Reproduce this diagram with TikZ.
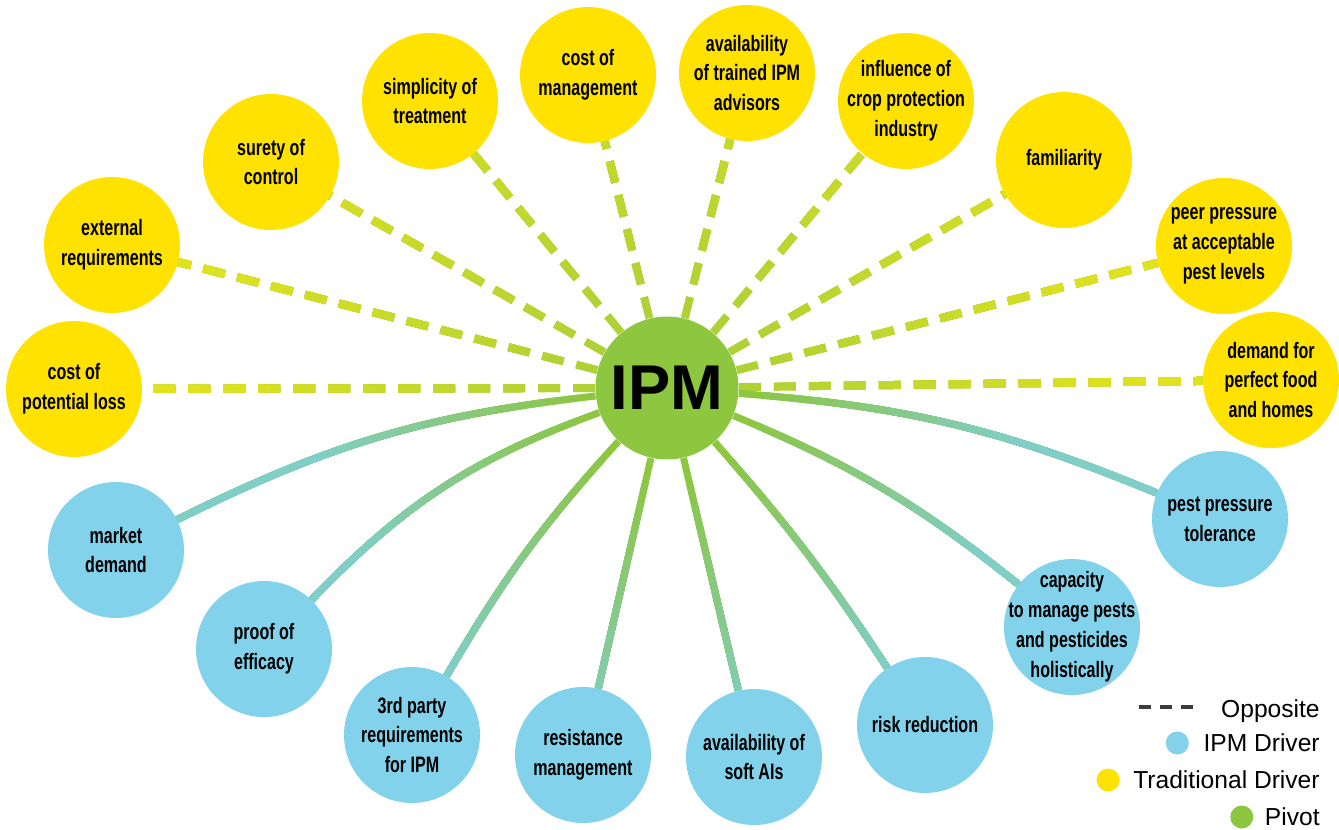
\documentclass[tikz,border=0pt]{standalone}
\usepackage{fontspec}
\setmainfont{Liberation Sans}
\newfontfamily\bubblefont[FakeStretch=0.72]{Liberation Sans}
\usetikzlibrary{positioning,backgrounds}
\definecolor{tradyellow}{RGB}{255,226,0}
\definecolor{driverblue}{RGB}{129,210,234}
\definecolor{pivotgreen}{RGB}{141,198,63}
\definecolor{dashfar}{RGB}{224,227,28}
\definecolor{dashnear}{RGB}{176,209,54}
\definecolor{linkfar}{RGB}{127,206,200}
\definecolor{linknear}{RGB}{141,198,63}
\definecolor{legendgray}{RGB}{60,60,60}

\begin{document}
\begin{tikzpicture}[x=0.02cm, y=-0.02cm,
  trad/.style={circle, fill=tradyellow, minimum size=2.72cm, inner sep=-0.6cm,
    align=center, font=\bubblefont\bfseries\fontsize{12.7}{17}\selectfont},
  driver/.style={trad, fill=driverblue},
  pivot/.style={circle, fill=pivotgreen, minimum size=2.86cm, inner sep=0pt,
    font=\bfseries\fontsize{36}{36}\selectfont},
  oppose/.style={line width=0.16cm, dash pattern=on 0.44cm off 0.26cm},
  link/.style={line width=0.14cm},
  legend/.style={anchor=east, inner sep=0pt, font=\fontsize{14}{16}\selectfont},
  legdot/.style={circle, minimum size=0.46cm, inner sep=0pt},
  legdash/.style={line width=0.08cm, legendgray, dash pattern=on 0.24cm off 0.18cm},
]
\useasboundingbox (0,0) rectangle (1339,829);

% pivot
\node[pivot] (ipm) at (667,388) {IPM};

% traditional drivers
\node[trad] (loss) at (74,389) {cost of\\potential loss};
\node[trad] (extreq) at (112,245) {external\\requirements};
\node[trad] (surety) at (271,162) {surety of\\control};
\node[trad] (simple) at (430,101) {simplicity of\\treatment};
\node[trad] (costmgmt) at (588,75) {cost of\\management};
\node[trad] (advisors) at (747,73) {availability\\of trained IPM\\advisors};
\node[trad] (industry) at (906,101) {influence of\\crop protection\\industry};
\node[trad] (familiar) at (1064,160) {familiarity};
\node[trad] (peer) at (1224,246) {peer pressure\\at acceptable\\pest levels};
\node[trad] (perfect) at (1271,380) {demand for\\perfect food\\and homes};

% IPM drivers
\node[driver] (market) at (116,550) {market\\demand};
\node[driver] (proof) at (264,649) {proof of\\efficacy};
\node[driver] (thirdparty) at (412,735) {3rd party\\requirements\\for IPM};
\node[driver] (resist) at (583,755) {resistance\\management};
\node[driver] (softai) at (754,757) {availability of\\soft AIs};
\node[driver] (risk) at (925,725) {risk reduction};
\node[driver] (capacity) at (1072,627) {capacity\\to manage pests\\and pesticides\\holistically};
\node[driver] (tolerance) at (1220,519) {pest pressure\\tolerance};

% connectors, repainted ring by ring: green at the pivot, paler further out
\begin{scope}[on background layer]
  \fill[white] (0,0) rectangle (1339,829);
  \foreach \k in {0,...,16} {
    \pgfmathtruncatemacro\sm{max(0,100-\k*9.26)}
    \pgfmathtruncatemacro\dm{max(0,100-\k*6.25)}
    \begin{scope}[even odd rule]
      \clip (0,0) rectangle (1339,829)
        (ipm.center) circle[radius={(72+\k*25)*0.02cm}];
      \foreach \t in {loss,extreq,surety,simple,costmgmt,advisors,industry,familiar,peer,perfect}
        \draw[oppose, dashnear!\dm!dashfar] (ipm) -- (\t);
      \foreach \t/\a in {market/-10,proof/-13,thirdparty/-6,resist/0,
          softai/0,risk/4,capacity/8,tolerance/9}
        \draw[link, linknear!\sm!linkfar] (ipm) to[bend left=\a] (\t);
    \end{scope}
  }
\end{scope}

% legend
\node[legend] (opplbl) at (1320,711) {Opposite};
\coordinate[left=0.56cm of opplbl.west, yshift=0.08cm] (dashend);
\draw[legdash] (dashend) -- ++(-1.08cm,0);
\node[legend] (driverlbl) at (1320,743) {IPM Driver};
\node[legdot, fill=driverblue, left=0.28cm of driverlbl] (driverdot) {};
\node[legend] (tradlbl) at (1320,780) {Traditional Driver};
\node[legdot, fill=tradyellow, left=0.26cm of tradlbl] (traddot) {};
\node[legend] (pivotlbl) at (1320,817) {Pivot};
\node[legdot, fill=pivotgreen, left=0.22cm of pivotlbl] (pivotdot) {};
\end{tikzpicture}
\end{document}
